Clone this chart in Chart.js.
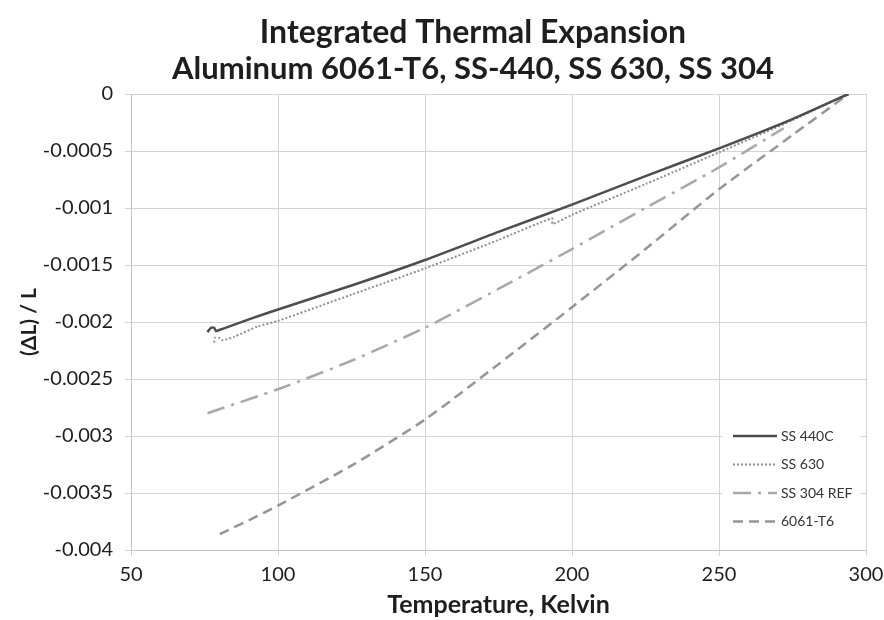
<!DOCTYPE html>
<html>
<head>
<meta charset="utf-8">
<title>Integrated Thermal Expansion</title>
<script src="https://cdn.jsdelivr.net/npm/chart.js@4.4.1/dist/chart.umd.min.js"></script>
<style>
    html, body { margin: 0; padding: 0; background: #fff; }
    #wrap { width: 884px; height: 620px; }
</style>
</head>
<body>
<div id="wrap"><canvas id="chart" width="884" height="620"></canvas></div>
<script>
// Temperatures (K) and integrated expansion (dL/L)
const ss440cTemp = [76, 77.2, 78.3, 78.9, 80, 82.8, 90.8, 100, 125, 150, 175, 200, 225, 250, 275, 294];
const ss440cVal = [-0.00209, -0.00205, -0.00205, -0.00208, -0.00207, -0.002045, -0.00197, -0.00189, -0.00168, -0.001456, -0.00121, -0.00097, -0.00072, -0.000477, -0.00022, 0];

const ss630Temp = [78.3, 78.5, 80, 81.1, 85.1, 93, 100, 125, 150, 175, 193.2, 193.4, 200, 225, 250, 275, 294];
const ss630Val = [-0.00218, -0.00214, -0.00214, -0.00216, -0.00213, -0.00204, -0.00199, -0.00176, -0.00153, -0.00128, -0.00109, -0.00114, -0.00106, -0.00079, -0.000512, -0.00023, 0];

const ss304Temp = [76, 100, 125, 150, 175, 200, 225, 250, 272];
const ss304Val = [-0.0028, -0.00259, -0.00234, -0.00205, -0.00171, -0.00136, -0.00100, -0.000644, -0.00030];

const al6061Temp = [80.2, 90, 100, 125, 150, 175, 200, 225, 250, 275, 294];
const al6061Val = [-0.00386, -0.00374, -0.00361, -0.00326, -0.002856, -0.00237, -0.00187, -0.00136, -0.000835, -0.00036, 0];

const seriesNames = ['SS 440C', 'SS 630', 'SS 304 REF', '6061-T6'];

const xTickValues = [50, 100, 150, 200, 250, 300];
const yTickValues = [0, -0.0005, -0.001, -0.0015, -0.002, -0.0025, -0.003, -0.0035, -0.004];
const yTickLabels = ['0', '-0.0005', '-0.001', '-0.0015', '-0.002', '-0.0025', '-0.003', '-0.0035', '-0.004'];

const titleLines = ['Integrated Thermal Expansion', 'Aluminum 6061-T6, SS-440, SS 630, SS 304'];
const xAxisTitle = 'Temperature, Kelvin';
const yAxisTitle = '(\u0394L) / L';

const FONT = 'Lato, "Open Sans", sans-serif';
const INK = '#1e1e1e';

function toPoints(temps, vals) {
    return temps.map((t, i) => ({ x: t, y: vals[i] }));
}

// Two-line title; the original sits a little left of the plot centre
const chartTitle = {
    id: 'chartTitle',
    afterDraw(chart) {
        const ctx = chart.ctx;
        ctx.save();
        ctx.fillStyle = INK;
        ctx.font = 'bold 32px ' + FONT;
        ctx.textAlign = 'center';
        ctx.textBaseline = 'middle';
        ctx.fillText(titleLines[0], 473, 33);
        ctx.font = 'bold 31px ' + FONT;
        ctx.fillText(titleLines[1], 473, 69);
        ctx.restore();
    }
};

// Legend box drawn inside the plot, lower right, using each dataset's own style
const insideLegend = {
    id: 'insideLegend',
    afterDatasetsDraw(chart) {
        const ctx = chart.ctx;
        const area = chart.chartArea;
        const boxLeft = area.right - 144;
        const boxTop = area.bottom - 136;

        ctx.save();
        ctx.fillStyle = '#ffffff';
        ctx.fillRect(boxLeft, boxTop, 138, 132);

        ctx.font = '14px ' + FONT;
        ctx.textBaseline = 'middle';
        chart.data.datasets.forEach((ds, i) => {
            const y = boxTop + 22 + i * 28.5;
            ctx.strokeStyle = ds.borderColor;
            ctx.lineWidth = ds.borderWidth;
            ctx.setLineDash(ds.borderDash || []);
            ctx.beginPath();
            ctx.moveTo(boxLeft + 11, y);
            ctx.lineTo(boxLeft + 55, y);
            ctx.stroke();
            ctx.setLineDash([]);
            ctx.fillStyle = '#333';
            ctx.fillText(ds.label, boxLeft + 59, y);
        });
        ctx.restore();
    }
};

const canvas = document.getElementById('chart');

new Chart(canvas, {
    type: 'scatter',
    data: {
        datasets: [
            {
                label: seriesNames[0],
                data: toPoints(ss440cTemp, ss440cVal),
                borderColor: '#4d4d4d',
                borderWidth: 2.5
            },
            {
                label: seriesNames[1],
                data: toPoints(ss630Temp, ss630Val),
                borderColor: '#8f8f8f',
                borderWidth: 2,
                borderDash: [2, 2]
            },
            {
                label: seriesNames[2],
                data: toPoints(ss304Temp, ss304Val),
                borderColor: '#a8a8a8',
                borderWidth: 2.5,
                borderDash: [18, 7, 3, 7]
            },
            {
                label: seriesNames[3],
                data: toPoints(al6061Temp, al6061Val),
                borderColor: '#959595',
                borderWidth: 2.5,
                borderDash: [10, 6]
            }
        ].map(ds => Object.assign(ds, {
            showLine: true,
            pointRadius: 0,
            pointHoverRadius: 0,
            fill: false,
            tension: 0.2
        }))
    },
    options: {
        responsive: false,
        animation: false,
        layout: { padding: { left: 0, right: 18, top: 94, bottom: 0 } },
        plugins: {
            legend: { display: false },
            tooltip: { enabled: false },
            title: { display: false }
        },
        scales: {
            x: {
                type: 'linear',
                min: 50,
                max: 300,
                afterBuildTicks: s => { s.ticks = xTickValues.map(v => ({ value: v })); },
                afterFit: s => {
                    s.height = 70;
                    s.paddingLeft = 0;
                    s.paddingRight = 0;
                },
                grid: { color: '#d4d4d4', lineWidth: 1, tickLength: 6, drawTicks: true },
                border: { color: '#c4c4c4', width: 1 },
                ticks: {
                    color: INK,
                    font: { family: FONT, size: 20 },
                    padding: 7,
                    maxRotation: 0
                },
                title: {
                    display: true,
                    text: xAxisTitle,
                    color: INK,
                    font: { family: FONT, size: 25, weight: 'bold' },
                    padding: { top: 0, bottom: 0 }
                }
            },
            y: {
                type: 'linear',
                min: -0.004,
                max: 0,
                afterBuildTicks: s => { s.ticks = yTickValues.map(v => ({ value: v })); },
                afterFit: s => {
                    s.width = 131;
                    s.paddingTop = 0;
                    s.paddingBottom = 0;
                },
                grid: { color: '#d4d4d4', lineWidth: 1, tickLength: 6, drawTicks: true },
                border: { color: '#c4c4c4', width: 1 },
                ticks: {
                    color: INK,
                    font: { family: FONT, size: 20 },
                    padding: 12,
                    callback: value => {
                        const i = yTickValues.findIndex(v => Math.abs(v - value) < 1e-9);
                        return i >= 0 ? yTickLabels[i] : '';
                    }
                },
                title: {
                    display: true,
                    text: yAxisTitle,
                    color: INK,
                    font: { family: FONT, size: 21, weight: 'bold' },
                    padding: { top: 17, bottom: 0 }
                }
            }
        }
    },
    plugins: [chartTitle, insideLegend]
});
</script>
</body>
</html>
